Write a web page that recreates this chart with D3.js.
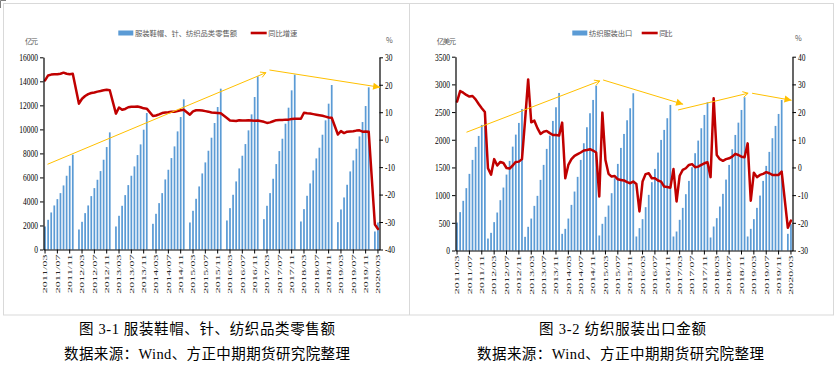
<!DOCTYPE html>
<html><head><meta charset="utf-8">
<script src="https://cdn.jsdelivr.net/npm/d3@7"></script>
<style>html,body{margin:0;padding:0;background:#fff;}svg{display:block}</style>
</head><body>
<svg id="c" width="837" height="369"></svg>
<script>
// ---------- categories ----------
const years = [2011,2012,2013,2014,2015,2016,2017,2018,2019,2020];
const monthNums = ["01","02","03","04","05","06","07","08","09","10","11","12"];
const months = [];
years.forEach(y => monthNums.forEach((m, k) => {
  if ((y === 2011 && k < 2) || (y === 2020 && k > 2)) return;
  months.push(y + "/" + m);
}));
const tickLabels = months.filter((d, i) => i % 4 === 0);

// ---------- Fig 3-1: retail sales of clothing, shoes, hats, knitwear & textiles (亿元, cumulative) ----------
const retailSales = [
  1917,2472,3083,3667,4194,4694,5333,6139,6972,7889,
  null,1667,2306,3028,3667,4444,5111,5806,6528,7472,8528,9750,
  null,1917,2806,3639,4528,5361,6139,6917,7861,8750,9972,11361,
  null,2139,2972,3861,4694,5833,6639,7611,8583,9833,11028,12500,
  null,2250,3222,4222,5250,6333,7250,8222,9306,10528,11861,13389,
  null,2417,3444,4556,5667,6750,7806,8778,9917,11250,12694,14417,
  null,2528,3639,4694,5889,7111,8194,9222,10472,11806,13250,14556,
  null,2333,3361,4472,5500,6583,7583,8472,9556,10750,12139,13694,
  null,2278,3333,4333,5389,6500,7417,8389,9417,10611,11944,13500,
  null,1500,2250
];
const retailYoY = [
  21.6,23.4,23.7,23.8,23.8,24.0,24.4,24.0,23.8,24.0,
  null,13.1,14.9,15.9,16.6,17.0,17.2,17.5,17.7,18.0,18.2,18.0,
  null,9.5,11.7,10.9,11.2,11.8,12.0,12.0,12.1,11.8,11.4,11.3,
  null,8.6,8.8,9.2,9.7,9.9,10.0,10.2,10.2,10.4,10.7,10.9,
  null,9.1,10.3,10.7,10.7,10.6,10.4,10.2,9.9,9.8,9.7,9.6,
  null,7.9,7.0,6.9,6.8,7.1,7.0,7.0,7.1,7.0,6.9,7.0,
  null,6.5,6.1,6.3,6.7,7.1,7.2,7.2,7.3,7.3,7.5,7.6,
  null,7.6,9.8,9.6,9.5,9.3,9.1,8.9,8.7,8.4,8.1,8.0,
  null,1.9,3.1,2.4,2.9,3.0,3.1,3.3,3.4,2.9,3.0,2.9,
  null,-30.9,-32.5
];
const retailLeftTicks = [0,2000,4000,6000,8000,10000,12000,14000,16000];
const retailRightTicks = [-40,-30,-20,-10,0,10,20,30];
// trend arrows: [month index, value on left axis]
const retailArrows = [
  { from: [0.8, 7093],  to: [71.65, 14718], head: "open" },
  { from: [72.8, 14943], to: [108.7, 13503], head: "filled" }
];

// ---------- Fig 3-2: textile & garment exports (亿美元, cumulative) ----------
const exportValue = [
  505,693,897,1126,1384,1636,1871,2069,2268,2508,
  216,319,512,686,909,1137,1371,1618,1876,2093,2304,2556,
  247,428,577,806,987,1275,1546,1835,2075,2340,2587,2845,
  301,391,577,824,1065,1330,1636,1937,2226,2479,2719,2977,
  271,482,608,812,1035,1306,1564,1853,2105,2352,2569,2840,
  253,404,566,783,1005,1234,1474,1768,1997,2178,2389,2629,
  253,343,554,770,1017,1257,1504,1757,1985,2208,2448,2677,
  235,433,584,794,1023,1281,1546,1829,2087,2309,2538,2767,
  253,391,566,770,992,1257,1528,1781,2028,2250,2466,2719,
  null,301,476
];
const exportYoY = [
  23.8,27.6,27.0,26.2,25.6,25.8,24.6,22.9,21.4,20.0,
  -0.3,-2.6,3.0,0.7,2.0,1.6,-0.2,-0.4,0.7,2.0,2.1,3.0,
  17.0,31.8,16.3,16.9,14.2,12.1,12.9,13.2,12.4,11.7,11.7,11.5,
  16.2,-3.9,0.9,3.0,4.2,4.8,5.4,6.1,6.3,6.6,6.1,5.4,
  -10.5,19.8,2.7,-2.3,-3.3,-3.1,-4.3,-4.5,-4.7,-5.3,-5.7,-5.1,
  -6.0,-15.9,-5.1,-2.4,-2.1,-3.9,-3.9,-4.7,-5.1,-6.9,-7.1,-7.3,
  -0.6,-12.3,-3.0,-0.9,-0.3,0.9,1.2,0.1,0.3,0.9,1.5,1.9,
  -3.5,25.0,4.5,3.0,2.4,3.0,3.3,3.9,4.9,4.5,3.9,3.7,
  8.7,-12.0,-1.9,-3.5,-2.7,-2.3,-1.7,-2.1,-2.7,-2.7,-2.7,-1.5,
  null,-21.8,-19.2
];
const exportLeftTicks = [0,500,1000,1500,2000,2500,3000,3500];
const exportRightTicks = [-30,-20,-10,0,10,20,30,40];
const exportArrows = [
  { from: [3.06, 2136],  to: [46.17, 3062], head: "open" },
  { from: [47.24, 3080], to: [73.12, 2641], head: "filled" },
  { from: [71.5, 2538],  to: [94.14, 2840], head: "open" },
  { from: [95.43, 2840], to: [108.18, 2713], head: "filled" }
];

// ---------- drawing ----------
const svg = d3.select("#c");
const BLUE = "#5B9BD5", RED = "#C00000", GOLD = "#FFC000";
const NUMFONT = "'Liberation Serif','Times New Roman',serif";
const CJK = "'Noto Sans CJK SC','Noto Sans',sans-serif";
const plain = d => String(d);

// frames
svg.append("rect").attr("x",3.5).attr("y",3.5).attr("width",830).attr("height",311.5)
  .attr("fill","none").attr("stroke","#D9D9D9");
svg.append("line").attr("x1",409.5).attr("x2",409.5).attr("y1",3.5).attr("y2",315)
  .attr("stroke","#D9D9D9");
svg.append("path").attr("d","M0.5,8 V0.5 H6").attr("fill","none").attr("stroke","#7f7f7f");

function drawArrow(g, x1, y1, x2, y2, head) {
  const a = Math.atan2(y2 - y1, x2 - x1);
  g.append("line").attr("x1",x1).attr("y1",y1).attr("x2",x2).attr("y2",y2)
    .attr("stroke",GOLD).attr("stroke-width",1);
  if (head === "open") {
    const L = 6, t = 0.5;
    const p1 = [x2 - L*Math.cos(a - t), y2 - L*Math.sin(a - t)];
    const p2 = [x2 - L*Math.cos(a + t), y2 - L*Math.sin(a + t)];
    g.append("path").attr("d",`M${p1}L${x2},${y2}L${p2}`).attr("fill","none")
      .attr("stroke",GOLD).attr("stroke-width",1);
  } else {
    const L = 7, W = 3.6;
    const bx = x2 - L*Math.cos(a), by = y2 - L*Math.sin(a);
    const px = -Math.sin(a)*W, py = Math.cos(a)*W;
    g.append("path").attr("d",`M${x2},${y2}L${bx+px},${by+py}L${bx-px},${by-py}Z`).attr("fill",GOLD);
  }
}

function panel(o) {
  const g = svg.append("g");
  const x = d3.scaleBand().domain(months).range([o.x0, o.x1]);
  const step = x.step();
  const xi = i => o.x0 + (i + 0.5) * step;
  const yL = d3.scaleLinear().domain(o.leftDomain).range([o.yb, o.yt]);
  const yR = d3.scaleLinear().domain(o.rightDomain).range([o.yb, o.yt]);

  // bars
  const barData = months.map((m, i) => ({ m, v: o.bars[i] })).filter(d => d.v != null);
  g.selectAll("rect.bar").data(barData).enter().append("rect").attr("class","bar")
    .attr("x", d => x(d.m) + step*0.22).attr("width", step*0.56)
    .attr("y", d => yL(d.v)).attr("height", d => yL(0) - yL(d.v))
    .attr("fill", BLUE);

  // red line
  const lineData = months.map((m, i) => ({ m, v: o.line[i] })).filter(d => d.v != null);
  g.append("path").datum(lineData)
    .attr("d", d3.line().x(d => x(d.m) + step/2).y(d => yR(d.v)))
    .attr("fill","none").attr("stroke",RED).attr("stroke-width",2.5)
    .attr("stroke-linejoin","round").attr("stroke-linecap","round");

  // axes
  const ax = g.append("g").attr("transform",`translate(${o.x0},0)`)
    .call(d3.axisLeft(yL).tickValues(o.leftTicks).tickFormat(plain).tickSize(3.5).tickSizeOuter(0));
  ax.selectAll("text").attr("x",null).attr("dy","0.33em")
    .attr("transform","translate(-5.5,0) scale(0.75,1)")
    .style("font-family",NUMFONT).style("font-size","10px").attr("fill","#000");
  const ar = g.append("g").attr("transform",`translate(${o.x1},0)`)
    .call(d3.axisRight(yR).tickValues(o.rightTicks).tickFormat(plain).tickSize(3.5).tickSizeOuter(0));
  ar.selectAll("text").attr("x",null).attr("dy","0.33em")
    .attr("transform","translate(5.5,0) scale(0.75,1)")
    .style("font-family",NUMFONT).style("font-size","10px").attr("fill","#000");
  const axb = g.append("g").attr("transform",`translate(0,${o.yb})`)
    .call(d3.axisBottom(x).tickValues(tickLabels).tickSize(4).tickSizeOuter(0));
  axb.selectAll(".tick text").attr("y",null).attr("dy","0.35em")
    .attr("text-anchor","end")
    .attr("transform","translate(0,5) scale(0.55,1) rotate(-90)")
    .style("font-family",NUMFONT).style("font-size","12px").attr("fill","#262626");
  [ax, ar, axb].forEach(a => {
    a.selectAll("path,line").attr("stroke","#000");
    a.select(".domain").attr("stroke-width",1.2);
  });

  // legend
  const lg = g.append("g").style("font-family",CJK).style("font-size","7.3px").attr("fill","#595959");
  lg.append("rect").attr("x",o.leg.rx).attr("y",30.5).attr("width",15).attr("height",5).attr("fill",BLUE);
  lg.append("text").attr("x",o.leg.tx).attr("y",35.5).attr("textLength",o.leg.tl).text(o.leg.barName);
  lg.append("line").attr("x1",o.leg.lx).attr("x2",o.leg.lx+16).attr("y1",33).attr("y2",33)
    .attr("stroke",RED).attr("stroke-width",2.6);
  lg.append("text").attr("x",o.leg.lx+17.5).attr("y",35.5).attr("textLength",o.leg.tl2).text(o.leg.lineName);

  // units
  lg.append("text").attr("x",o.unitX).attr("y",44).attr("textLength",o.unitL).text(o.unit);
  lg.append("text").attr("x",o.pctX).attr("y",o.pctY).text("%");

  // arrows
  o.arrows.forEach(a => drawArrow(g, xi(a.from[0]), yL(a.from[1]), xi(a.to[0]), yL(a.to[1]), a.head));

  // captions
  const cap = g.append("g").style("font-family","'Liberation Serif','Noto Sans CJK SC',serif")
    .style("font-size","14.5px").style("white-space","pre").attr("fill","#000");
  cap.append("text").attr("x",o.cap1x).attr("y",334).attr("textLength",o.cap1l).text(o.cap1);
  cap.append("text").attr("x",o.cap2x).attr("y",358.5).attr("textLength",o.cap2l).text(o.cap2);
}

panel({
  x0: 43.5, x1: 379.5, yt: 57.3, yb: 249.5,
  leftDomain: [0,16000], rightDomain: [-40,30],
  leftTicks: retailLeftTicks, rightTicks: retailRightTicks,
  bars: retailSales, line: retailYoY, arrows: retailArrows,
  leg: { rx:118.3, tx:135, tl:102, lx:250.7, tl2:29, barName:"服装鞋帽、针、纺织品类零售额", lineName:"同比增速" },
  unit: "亿元", unitX: 25, unitL: 13, pctX: 386, pctY: 43,
  cap1: "图 3-1  服装鞋帽、针、纺织品类零售额", cap1x: 79, cap1l: 256,
  cap2: "数据来源：Wind、方正中期期货研究院整理", cap2x: 64, cap2l: 286
});
panel({
  x0: 455.5, x1: 792.5, yt: 56.7, yb: 250.5,
  leftDomain: [0,3500], rightDomain: [-30,40],
  leftTicks: exportLeftTicks, rightTicks: exportRightTicks,
  bars: exportValue, line: exportYoY, arrows: exportArrows,
  leg: { rx:572.3, tx:589, tl:43.3, lx:641.7, tl2:13.3, barName:"纺织服装出口", lineName:"同比" },
  unit: "亿美元", unitX: 436.7, unitL: 19.3, pctX: 795, pctY: 40.5,
  cap1: "图 3-2  纺织服装出口金额", cap1x: 539, cap1l: 167,
  cap2: "数据来源：Wind、方正中期期货研究院整理", cap2x: 477, cap2l: 287
});
</script>
</body></html>
